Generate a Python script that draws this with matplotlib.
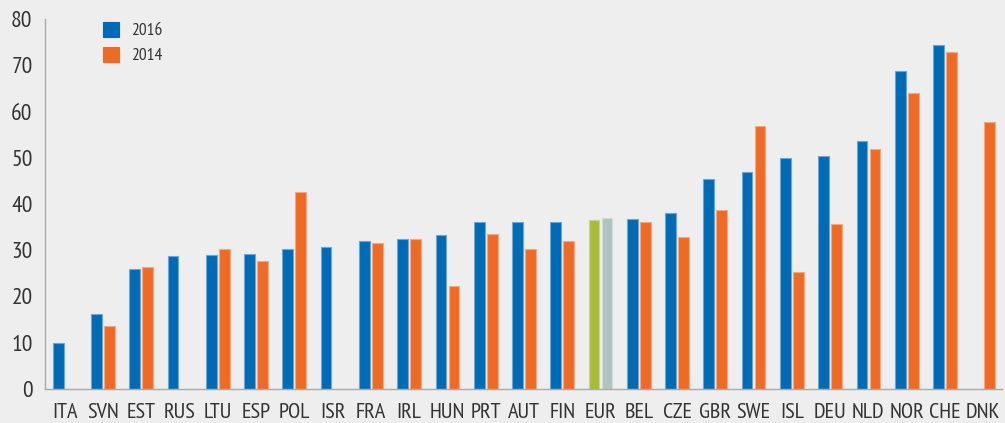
import numpy as np
import matplotlib.pyplot as plt
from matplotlib import font_manager

countries = ["ITA", "SVN", "EST", "RUS", "LTU", "ESP", "POL", "ISR", "FRA", "IRL",
             "HUN", "PRT", "AUT", "FIN", "EUR", "BEL", "CZE", "GBR", "SWE", "ISL",
             "DEU", "NLD", "NOR", "CHE", "DNK"]
v2016 = [10.0, 16.2, 25.9, 28.8, 28.9, 29.2, 30.2, 30.6, 32.0, 32.4,
         33.2, 36.1, 36.1, 36.1, 36.5, 36.8, 38.0, 45.3, 46.9, 49.9,
         50.3, 53.6, 68.7, 74.4, np.nan]
v2014 = [np.nan, 13.6, 26.4, np.nan, 30.2, 27.7, 42.6, np.nan, 31.6, 32.4,
         22.3, 33.5, 30.3, 31.9, 37.0, 36.0, 32.8, 38.7, 56.8, 25.2,
         35.7, 51.8, 63.9, 72.9, 57.7]

blue, orange = "#006ab5", "#ef6b25"
green, grey = "#a8bc3a", "#aec4c0"
bg = "#eeeeee"

# condensed font like the original, if one is there
installed = {f.name for f in font_manager.fontManager.ttflist}
narrow = [n for n in ["PT Sans Narrow", "Fira Sans Condensed", "Open Sans Condensed",
                      "Roboto Condensed", "Liberation Sans Narrow", "Arial Narrow",
                      "Encode Sans Condensed", "Asap Condensed"] if n in installed]
if narrow:
    plt.rcParams['font.family'] = [narrow[0], 'DejaVu Sans']
    ysize, xsize, lsize = 17, 16, 12.5
else:
    plt.rcParams['font.family'] = ['DejaVu Sans']
    ysize, xsize, lsize = 14, 11.5, 11

fig = plt.figure(figsize=(10.05, 4.23), dpi=100, facecolor=bg)
ax = fig.add_axes([45/1005, 34/423, 957/1005, 370/423], facecolor=bg)

x = np.arange(len(countries))
c16 = [green if c == "EUR" else blue for c in countries]
c14 = [grey if c == "EUR" else orange for c in countries]
e16 = ["#c8d68a" if c == "EUR" else "#6aa6d8" for c in countries]
e14 = ["#cfdcd9" if c == "EUR" else "#f6a783" for c in countries]

w = 0.28
ax.bar(x - 0.17, v2016, w, color=c16, edgecolor=e16, linewidth=0.8, label="2016")
ax.bar(x + 0.17, v2014, w, color=c14, edgecolor=e14, linewidth=0.8, label="2014")

ax.set_xlim(-0.515, 24.49)
ax.set_ylim(0, 80)
ax.set_yticks(np.arange(0, 81, 10))
ax.set_xticks(x)
ax.set_xticklabels(countries)
ax.tick_params(axis='both', length=0, colors="#333333")
ax.tick_params(axis='y', labelsize=ysize, pad=9)
ax.tick_params(axis='x', labelsize=xsize, pad=10)

for s in ["top", "right"]:
    ax.spines[s].set_visible(False)
for s in ["left", "bottom"]:
    ax.spines[s].set_color("#aaaaaa")
    ax.spines[s].set_linewidth(1)

leg = ax.legend(loc="upper left", bbox_to_anchor=(103/1005, 1 - 22/423),
                bbox_transform=fig.transFigure, frameon=False, fontsize=lsize,
                handlelength=0.92, handleheight=0.92, handletextpad=0.7,
                labelspacing=0.45, borderpad=0, borderaxespad=0)
leg.legend_handles[0].set_color(blue)
leg.legend_handles[1].set_color(orange)
for t in leg.get_texts():
    t.set_color("#333333")

fig.savefig("out.png", dpi=100, facecolor=bg)
